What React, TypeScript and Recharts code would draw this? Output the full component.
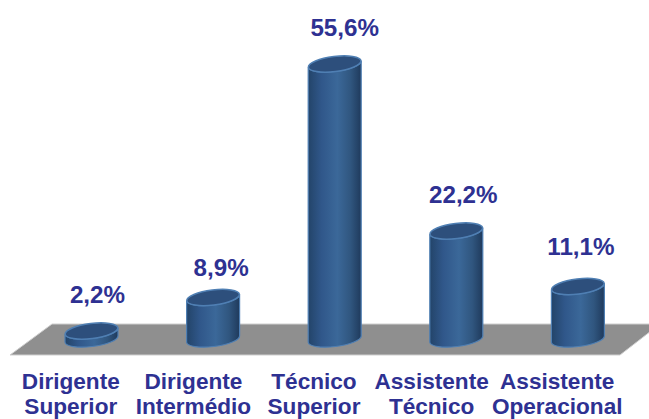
import { BarChart, Bar, XAxis, YAxis, LabelList } from "recharts";

const firstLines = ["Dirigente", "Dirigente", "Técnico", "Assistente", "Assistente"];
const secondLines = ["Superior", "Intermédio", "Superior", "Técnico", "Operacional"];
const shares = [2.2, 8.9, 55.6, 22.2, 11.1];

// the labels in the picture sit a bit off the bar centres
const labelShiftX = [6, 8, 10, 7, 3];
const labelShiftY = [0, 6, 0, 0, -4];
const tickShiftX = [-21, -20, -21, -25, -21];

const data = shares.map((share, i) => ({
  name: firstLines[i] + " " + secondLines[i],
  share,
}));

const textColor = "#2e3192";
const fontFamily = "'Liberation Sans', Arial, sans-serif";

const Cylinder = (props: any) => {
  const { x, y, width, height } = props;
  const rx = width / 2;
  const ry = 7.5;
  const rot = -7;
  const lift = rx * Math.sin((7 * Math.PI) / 180);
  const bottom = y + height - 3;
  const body = `M${x} ${y + lift} A${rx} ${ry} ${rot} 0 0 ${x + width} ${y - lift}
    L${x + width} ${bottom - lift} A${rx} ${ry} ${rot} 0 1 ${x} ${bottom + lift} Z`;
  return (
    <g>
      <path d={body} fill="url(#cylinderBody)" stroke="#4f7fb3" strokeWidth={1.2} />
      <ellipse
        cx={x + rx}
        cy={y}
        rx={rx}
        ry={ry}
        transform={`rotate(${rot} ${x + rx} ${y})`}
        fill="#2d4f7c"
        stroke="#4f7fb3"
        strokeWidth={1.5}
      />
    </g>
  );
};

const ShareLabel = (props: any) => {
  const { x, y, width, value, index } = props;
  return (
    <text
      x={x + width / 2 + labelShiftX[index]}
      y={y - 28 + labelShiftY[index]}
      textAnchor="middle"
      fontFamily={fontFamily}
      fontWeight="bold"
      fontSize={24.2}
      fill={textColor}
    >
      {value.toFixed(1).replace(".", ",") + "%"}
    </text>
  );
};

const CategoryTick = (props: any) => {
  const { x, index } = props;
  const tx = x + tickShiftX[index];
  return (
    <text
      textAnchor="middle"
      fontFamily={fontFamily}
      fontWeight="bold"
      fontSize={22.6}
      fill={textColor}
    >
      <tspan x={tx} y={389}>{firstLines[index]}</tspan>
      <tspan x={tx} y={414}>{secondLines[index]}</tspan>
    </text>
  );
};

export default function App() {
  return (
    <div style={{ position: "absolute", left: 0, top: 0, width: 649, height: 419, overflow: "hidden" }}>
      <svg width={649} height={419} style={{ position: "absolute", left: 0, top: 0 }}>
        <polygon
          points="10,355 52,324 660,324 620,355"
          fill="#8f8f8f"
          stroke="#cfcfcf"
          strokeWidth={1}
        />
      </svg>
      <div style={{ position: "absolute", left: 0, top: 0 }}>
        <BarChart
          width={649}
          height={419}
          data={data}
          margin={{ top: 42, right: 10, bottom: 0, left: 31 }}
        >
          <defs>
            <linearGradient id="cylinderBody" x1="0" y1="0" x2="1" y2="0">
              <stop offset="0%" stopColor="#234469" />
              <stop offset="25%" stopColor="#30578a" />
              <stop offset="55%" stopColor="#3b6899" />
              <stop offset="80%" stopColor="#30567f" />
              <stop offset="100%" stopColor="#1f3a5c" />
            </linearGradient>
          </defs>
          <XAxis
            dataKey="name"
            axisLine={false}
            tickLine={false}
            height={77}
            interval={0}
            tick={<CategoryTick />}
          />
          <YAxis hide domain={[0, 60]} />
          <Bar dataKey="share" barSize={53} shape={<Cylinder />} isAnimationActive={false}>
            <LabelList dataKey="share" content={<ShareLabel />} />
          </Bar>
        </BarChart>
      </div>
    </div>
  );
}
